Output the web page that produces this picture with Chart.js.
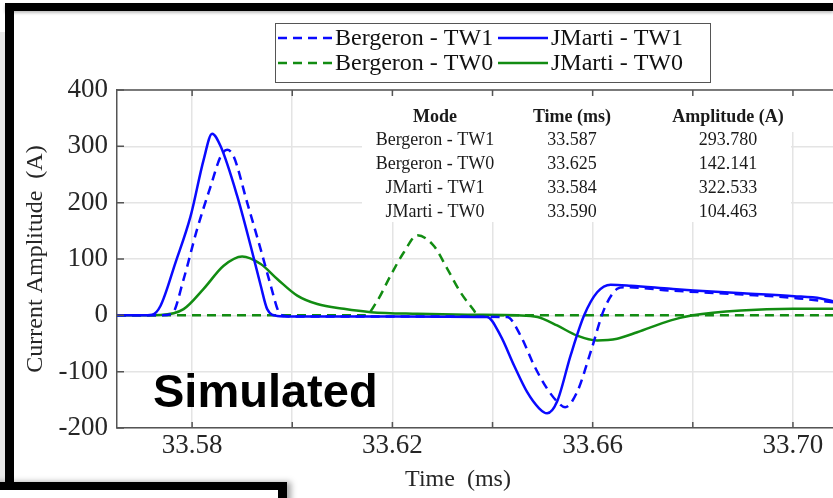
<!DOCTYPE html>
<html>
<head>
<meta charset="utf-8">
<script src="https://cdn.jsdelivr.net/npm/chart.js@4.4.1/dist/chart.umd.min.js"></script>
<style>
  html, body { margin: 0; padding: 0; background: #fff; }
  #wrap { position: relative; width: 833px; height: 498px; overflow: hidden; }
  #waveChart { position: absolute; left: 0; top: 0; }
  .bar { position: absolute; background: #000; }
</style>
</head>
<body>
<div id="wrap">
  <canvas id="waveChart" width="833" height="498"></canvas>
  <!-- surrounding frame -->
  <div class="bar" style="left:0;top:32px;width:5px;height:450px;background:#e9e9e9"></div>
  <div class="bar" style="left:5px;top:3px;width:828px;height:8px;box-shadow:0 2px 3px rgba(0,0,0,.25)"></div>
  <div class="bar" style="left:5px;top:3px;width:9px;height:487px"></div>
  <div style="position:absolute;left:-20px;top:482px;width:307px;height:40px;box-sizing:border-box;background:#fff;border-top:8px solid #000;border-right:9px solid #000;box-shadow:4px 0 6px rgba(0,0,0,.35)"></div>
</div>
<script>
// axis ticks
const xTickValues = [33.58, 33.60, 33.62, 33.64, 33.66, 33.68, 33.70];
const xTickLabels = ['33.58', '', '33.62', '', '33.66', '', '33.70'];
const yTickValues = [-200, -100, 0, 100, 200, 300, 400];

// peak values per mode (table + curve maxima)
const modes = ['Bergeron - TW1', 'Bergeron - TW0', 'JMarti - TW1', 'JMarti - TW0'];
const peakTimes = [33.587, 33.625, 33.584, 33.590];
const peakAmps = [293.780, 142.141, 322.533, 104.463];

// Bergeron - TW1 (without peak)
const bergTw1Time = [33.565, 33.574, 33.576, 33.5783, 33.581, 33.5837, 33.5857, 33.5883, 33.591, 33.5937,
  33.5957, 33.5973, 33.5985, 33.600, 33.620, 33.6429, 33.6456, 33.6483, 33.6509, 33.6529, 33.6545,
  33.6569, 33.6596, 33.6623, 33.6649, 33.6663, 33.6756, 33.690, 33.7002, 33.708];
const bergTw1Amp = [0, 0, 3, 64, 153, 229, 282, 282, 200, 117,
  53, 6, -1, -2, -2, -3, -36, -89, -130, -153, -163,
  -136, -65, 11, 47, 50, 44, 37, 31, 23];

// JMarti - TW1
const jmTw1Time = [33.565, 33.570, 33.572, 33.5737, 33.5767, 33.5797, 33.5823, 33.5857, 33.589, 33.5917,
  33.5937, 33.595, 33.597, 33.600, 33.620, 33.6389, 33.6416, 33.6443, 33.6469, 33.6493, 33.6509,
  33.6529, 33.6556, 33.6583, 33.6609, 33.6636, 33.6676, 33.6756, 33.6802, 33.690, 33.7002, 33.7056, 33.708];
const jmTw1Amp = [0, 0, 1, 17, 94, 176, 276, 300, 212, 123,
  53, 11, -1, -2, -2, -3, -36, -89, -136, -165, -174,
  -153, -71, 0, 41, 54.5, 52.7, 47, 44, 39, 34, 30, 25];

// Bergeron - TW0
const bergTw0Time = [33.565, 33.6146, 33.617, 33.6196, 33.6223, 33.6283, 33.631, 33.6336, 33.6363, 33.637, 33.708];
const bergTw0Amp = [0, 0, 26, 70, 112, 123, 82, 41, 8.5, 0, 0];

// JMarti - TW0
const jmTw0Time = [33.565, 33.570, 33.5737, 33.5783, 33.5823, 33.5863, 33.5937, 33.597, 33.601, 33.605,
  33.6103, 33.6157, 33.625, 33.635, 33.645, 33.649, 33.6529, 33.6569, 33.6609, 33.6649, 33.6689,
  33.6756, 33.680, 33.6896, 33.700, 33.708];
const jmTw0Amp = [0, 0, 0.5, 11, 47, 88, 91, 64.5, 35, 20,
  11.5, 5.6, 2.6, 1, 0, -3, -18, -36, -44.5, -41.5, -30,
  -9, 0, 8.5, 11.5, 11.5];

const BLUE = '#0a0aff';
const GREEN = '#128c12';
const SERIF = '"Liberation Serif", "Times New Roman", serif';
const TEXT = '#262626';

function series(times, amps, modeIdx) {
  const pts = times.map((t, i) => ({ x: t, y: amps[i] }));
  pts.push({ x: peakTimes[modeIdx], y: peakAmps[modeIdx] });
  return pts.sort((a, b) => a.x - b.x);
}

function line(label, data, color, dashed) {
  return {
    label: label,
    data: data,
    borderColor: color,
    borderWidth: 2.5,
    borderDash: dashed ? [9, 6] : [],
    pointRadius: 0,
    fill: false,
    cubicInterpolationMode: 'monotone'
  };
}

// table, legend, inner ticks and labels
const overlay = {
  id: 'overlay',
  beforeDatasetsDraw(chart) {
    const ctx = chart.ctx;
    ctx.save();
    ctx.fillStyle = '#fff';
    ctx.fillRect(362, 92, 429, 130);
    ctx.fillRect(791, 92, 6, 40);

    const cols = [435, 572, 728];
    ctx.fillStyle = '#1a1a1a';
    ctx.textAlign = 'center';
    ctx.textBaseline = 'middle';
    ctx.font = 'bold 18px ' + SERIF;
    ['Mode', 'Time (ms)', 'Amplitude (A)'].forEach((h, i) => ctx.fillText(h, cols[i], 117));
    ctx.font = '18px ' + SERIF;
    const rowY = [140, 164, 188, 212];
    modes.forEach((m, i) => {
      ctx.fillText(m, cols[0], rowY[i]);
      ctx.fillText(peakTimes[i].toFixed(3), cols[1], rowY[i]);
      ctx.fillText(peakAmps[i].toFixed(3), cols[2], rowY[i]);
    });
    ctx.restore();
  },
  afterDraw(chart) {
    const ctx = chart.ctx;
    const area = chart.chartArea;
    const xs = chart.scales.x, ys = chart.scales.y;
    ctx.save();

    // top edge of the axes box
    ctx.strokeStyle = '#555';
    ctx.lineWidth = 1.5;
    ctx.beginPath();
    ctx.moveTo(area.left, area.top);
    ctx.lineTo(area.right, area.top);
    ctx.stroke();

    // tick marks pointing inward
    ctx.beginPath();
    xs.ticks.forEach(t => {
      const px = xs.getPixelForValue(t.value);
      ctx.moveTo(px, area.bottom); ctx.lineTo(px, area.bottom - 6);
      ctx.moveTo(px, area.top); ctx.lineTo(px, area.top + 6);
    });
    ys.ticks.forEach(t => {
      const py = ys.getPixelForValue(t.value);
      ctx.moveTo(area.left, py); ctx.lineTo(area.left + 7, py);
    });
    ctx.stroke();

    // legend box
    ctx.fillStyle = '#fff';
    ctx.fillRect(275.5, 23.5, 435, 59);
    ctx.strokeStyle = '#555';
    ctx.lineWidth = 1;
    ctx.strokeRect(275.5, 23.5, 435, 59);
    const sampleX = [[278, 332], [498, 548]];
    const rowY = [38, 63];
    ctx.font = '24px ' + SERIF;
    ctx.textAlign = 'left';
    ctx.textBaseline = 'middle';
    chart.data.datasets.forEach((ds, i) => {
      const c = i % 2, r = Math.floor(i / 2);
      ctx.strokeStyle = ds.borderColor;
      ctx.lineWidth = 2.5;
      ctx.setLineDash(ds.borderDash);
      ctx.beginPath();
      ctx.moveTo(sampleX[c][0], rowY[r]);
      ctx.lineTo(sampleX[c][1], rowY[r]);
      ctx.stroke();
      ctx.setLineDash([]);
      ctx.fillStyle = '#111';
      ctx.fillText(ds.label, sampleX[c][1] + 3, rowY[r] + 1);
    });

    // x axis title
    ctx.fillStyle = TEXT;
    ctx.font = '24px ' + SERIF;
    ctx.textAlign = 'center';
    ctx.fillText('Time  (ms)', 458, 480);

    // caption
    ctx.fillStyle = '#000';
    ctx.font = 'bold 47px "Liberation Sans", Arial, sans-serif';
    ctx.textAlign = 'left';
    ctx.textBaseline = 'alphabetic';
    ctx.fillText('Simulated', 153, 407);
    ctx.restore();
  }
};

new Chart(document.getElementById('waveChart'), {
  type: 'line',
  data: {
    datasets: [
      line(modes[0], series(bergTw1Time, bergTw1Amp, 0), BLUE, true),
      line(modes[2], series(jmTw1Time, jmTw1Amp, 2), BLUE, false),
      line(modes[1], series(bergTw0Time, bergTw0Amp, 1), GREEN, true),
      line(modes[3], series(jmTw0Time, jmTw0Amp, 3), GREEN, false)
    ]
  },
  options: {
    responsive: false,
    animation: false,
    layout: { padding: { top: 90, right: 0, left: 0, bottom: 0 } },
    plugins: { legend: { display: false }, tooltip: { enabled: false } },
    scales: {
      x: {
        type: 'linear',
        min: 33.565,
        max: 33.708,
        afterBuildTicks: s => { s.ticks = xTickValues.map(v => ({ value: v })); },
        afterFit: s => { s.height = 70; },
        grid: { color: '#e4e4e4', lineWidth: 1.5, drawTicks: false },
        border: { color: '#555', width: 1.5 },
        ticks: {
          autoSkip: false,
          maxRotation: 0,
          padding: 2,
          color: TEXT,
          font: { family: SERIF, size: 27 },
          callback: (v, i) => xTickLabels[i]
        }
      },
      y: {
        min: -200,
        max: 400,
        afterBuildTicks: s => { s.ticks = yTickValues.map(v => ({ value: v })); },
        afterFit: s => { s.width = 117; },
        grid: { color: '#e4e4e4', lineWidth: 1.5, drawTicks: false },
        border: { color: '#555', width: 1.5 },
        ticks: {
          padding: 9,
          color: TEXT,
          font: { family: SERIF, size: 27 },
          callback: v => String(v)
        },
        title: {
          display: true,
          text: 'Current Amplitude  (A)',
          color: TEXT,
          font: { family: SERIF, size: 24 },
          padding: { top: 21 }
        }
      }
    }
  },
  plugins: [overlay]
});
</script>
</body>
</html>
